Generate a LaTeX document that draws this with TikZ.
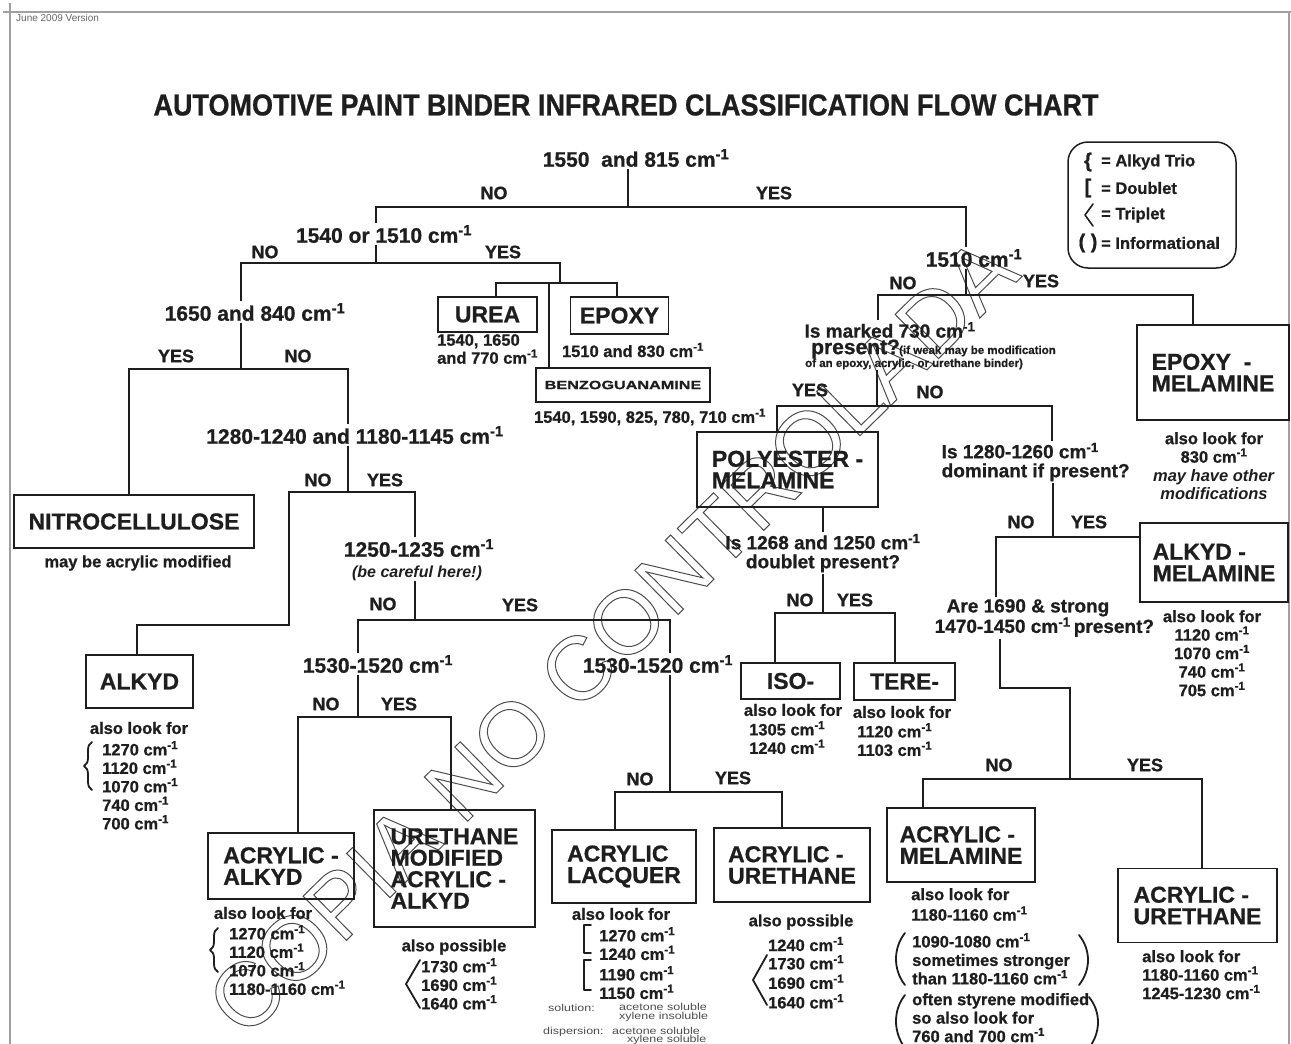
\documentclass[tikz,border=0pt]{standalone}
\usepackage{fontspec}
\setmainfont{Liberation Sans}[BoldFeatures={FakeBold=0.8}]
\usepackage{graphicx}
\usepackage{tikz}
\usetikzlibrary{positioning,decorations.pathreplacing}
\definecolor{ink}{HTML}{1E1E1E}
\definecolor{pagerule}{HTML}{A0A0A0}
\newcommand{\invcm}{cm\textsuperscript{-1}}
\newcommand{\boxfont}{\fontsize{23}{21.5}\selectfont\bfseries}
\newcommand{\qfont}{\fontsize{21}{19}\selectfont\bfseries}
\newcommand{\qwfont}{\fontsize{19}{19}\selectfont\bfseries}
\newcommand{\ynfont}{\fontsize{18}{18}\selectfont\bfseries}
\newcommand{\notefont}{\fontsize{16.5}{18.5}\selectfont\bfseries}
\newcommand{\smallnotefont}{\fontsize{11.5}{12}\selectfont\bfseries}
\newcommand{\solfont}{\fontsize{10}{9}\selectfont}
\newcommand{\legfont}{\fontsize{16.5}{16.5}\selectfont\bfseries}

\begin{document}
\begin{tikzpicture}[x=1pt, y=-1pt,
  every node/.style={inner sep=0pt, text=ink},
  link/.style={draw=ink, line width=1.6pt},
  box/.style={draw=ink, line width=1.6pt, font=\boxfont, align=left},
  ques/.style={font=\qfont, align=center, inner sep=1.5pt},
  yn/.style={font=\ynfont},
  note/.style={font=\notefont, align=center},
  lnote/.style={font=\notefont, align=left, anchor=north west},
  sol/.style={font=\solfont, text=black!70, anchor=west},
  brk/.style={draw=ink, line width=1.8pt, line cap=round, line join=round},
  pageline/.style={draw=pagerule, line width=1.2pt}]
  \useasboundingbox (0,0) rectangle (1291,1044);

  % watermark
  \node[rotate=44.5, font=\fontsize{90}{90}\selectfont, text=black!70] (wm) at (612,636) {\special{pdf:literal direct 1 Tr 1 w}COPIA NO CONTROLADA\special{pdf:literal direct 0 Tr}};

  \draw[pageline] (3,12) -- (1291,12);
  \draw[pageline] (10,3) -- (10,1044);
  \draw[pageline] (1289,12) -- (1289,1044);
  \node[font=\fontsize{10}{10}\selectfont, text=black!60, anchor=west] (version) at (16,18) {June 2009 Version};
  \node[font=\fontsize{27}{27}\selectfont\bfseries] (title) at (626,105) {\scalebox{1}[1.12]{AUTOMOTIVE PAINT BINDER INFRARED CLASSIFICATION FLOW CHART}};

  % legend
  \node[draw=ink, line width=1.5pt, rounded corners=20pt, minimum width=168pt, minimum height=126pt] (legend) at (1152,205) {};
  \node[font=\fontsize{20}{20}\selectfont\bfseries] (lsyma) at (1088,162) {\{};
  \node[font=\legfont, anchor=west] (ltxta) at (1101,162) {= Alkyd Trio};
  \node[font=\fontsize{20}{20}\selectfont\bfseries] (lsymb) at (1088,188) {[};
  \node[font=\legfont, anchor=west] (ltxtb) at (1101,188) {= Doublet};
  \draw[brk, line width=1.6pt] (1093,204) -- (1085,215) -- (1093,226);
  \node[font=\legfont, anchor=west] (ltxtc) at (1101,215) {= Triplet};
  \node[font=\fontsize{20}{20}\selectfont\bfseries] (lsymd) at (1088,243) {( )};
  \node[font=\legfont, anchor=west] (ltxtd) at (1101,243) {= Informational};

  % questions
  \node[ques] (root) at (636,158) {1550\ \ and 815 \invcm};
  \node[ques] (qa) at (384,234) {1540 or 1510 \invcm};
  \node[ques] (qb) at (974,258) {1510 \invcm};
  \node[ques] (qc) at (255,312) {1650 and 840 \invcm};
  \node[ques] (qd) at (355,435) {1280-1240 and 1180-1145 \invcm};
  \node[ques] (qe) at (419,548) {1250-1235 \invcm};
  \node[font=\fontsize{16}{16}\selectfont\bfseries\itshape] (qecare) at (417,573) {(be careful here!)};
  \node[ques] (qf) at (378,664) {1530-1520 \invcm};
  \node[ques] (qg) at (658,664) {1530-1520 \invcm};
  \node[ques, font=\qwfont] (qh) at (890,330) {Is marked 730 \invcm};
  \node[font=\qfont, anchor=west] (qhp) at (811,349) {present?};
  \node[font=\smallnotefont, anchor=west] (qhw) at (899,351) {(if weak may be modification};
  \node[font=\smallnotefont, anchor=west] (qhb) at (805,364) {of an epoxy, acrylic, or urethane binder)};
  \node[ques, font=\qwfont] (qi) at (823,553) {Is 1268 and 1250 \invcm\\doublet present?};
  \node[ques, font=\qwfont, align=left, anchor=west] (qj) at (940,462) {Is 1280-1260 \invcm\\dominant if present?};
  \node[ques, font=\qwfont, align=left, anchor=west] (qk) at (933,618) {\hspace*{12pt}Are 1690 \& strong\\1470-1450 \invcm\,present?};

  % yes / no
  \node[yn] (rootno) at (494,193) {NO};
  \node[yn] (rootyes) at (774,193) {YES};
  \node[yn] (qano) at (265,252) {NO};
  \node[yn] (qayes) at (503,252) {YES};
  \node[yn] (qbno) at (903,283) {NO};
  \node[yn] (qbyes) at (1041,281) {YES};
  \node[yn] (qcyes) at (176,356) {YES};
  \node[yn] (qcno) at (298,356) {NO};
  \node[yn] (qdno) at (318,480) {NO};
  \node[yn] (qdyes) at (385,480) {YES};
  \node[yn] (qeno) at (383,604) {NO};
  \node[yn] (qeyes) at (520,605) {YES};
  \node[yn] (qfno) at (326,704) {NO};
  \node[yn] (qfyes) at (399,704) {YES};
  \node[yn] (qgno) at (640,779) {NO};
  \node[yn] (qgyes) at (733,778) {YES};
  \node[yn] (qhyes) at (810,390) {YES};
  \node[yn] (qhno) at (930,392) {NO};
  \node[yn] (qino) at (800,600) {NO};
  \node[yn] (qiyes) at (855,600) {YES};
  \node[yn] (qjno) at (1021,522) {NO};
  \node[yn] (qjyes) at (1089,522) {YES};
  \node[yn] (qkno) at (999,765) {NO};
  \node[yn] (qkyes) at (1145,765) {YES};

  % binder boxes
  \node[box, minimum width=99pt, minimum height=35pt] (urea) at (487.5,314.5) {UREA};
  \node[box, minimum width=98pt, minimum height=37pt] (epoxy) at (619.5,315.5) {EPOXY};
  \node[box, minimum width=174pt, minimum height=34pt, font=\fontsize{12}{12}\selectfont\bfseries] (benzo) at (623,385) {\scalebox{1.35}[1]{BENZOGUANAMINE}};
  \node[box, minimum width=240pt, minimum height=53pt] (nitro) at (134,521.5) {NITROCELLULOSE};
  \node[box, minimum width=107pt, minimum height=53pt] (alkyd) at (139.5,681.5) {ALKYD};
  \node[box, minimum width=146pt, minimum height=66pt] (aab) at (281,866) {ACRYLIC -\\ALKYD};
  \node[box, minimum width=161pt, minimum height=117pt] (uma) at (454.5,868.5) {URETHANE\\MODIFIED\\ACRYLIC -\\ALKYD};
  \node[box, minimum width=144pt, minimum height=73pt] (alq) at (624,866.5) {ACRYLIC\\LACQUER};
  \node[box, minimum width=156pt, minimum height=74pt] (aua) at (792,865) {ACRYLIC -\\URETHANE};
  \node[box, minimum width=181pt, minimum height=75pt] (pem) at (787.5,469.5) {POLYESTER -\\MELAMINE};
  \node[box, minimum width=99pt, minimum height=36pt] (iso) at (790.5,681) {ISO-};
  \node[box, minimum width=101pt, minimum height=37pt] (tere) at (904.5,681.5) {TERE-};
  \node[box, minimum width=152pt, minimum height=95pt] (emel) at (1213,372.5) {EPOXY\ \ -\\MELAMINE};
  \node[box, minimum width=148pt, minimum height=79pt] (amel) at (1214,562.5) {ALKYD -\\MELAMINE};
  \node[box, minimum width=148pt, minimum height=74pt] (acmel) at (961,845) {ACRYLIC -\\MELAMINE};
  \node[box, minimum width=159pt, minimum height=74pt] (aub) at (1197.5,905.5) {ACRYLIC -\\URETHANE};

  % notes under the boxes
  \node[lnote, font=\fontsize{16.5}{18}\selectfont\bfseries] (urean) at (437,334) {1540, 1650\\and 770 \invcm};
  \node[note] (epoxyn) at (633,350) {1510 and 830 \invcm};
  \node[note] (benzon) at (650,417) {1540, 1590, 825, 780, 710 \invcm};
  \node[note] (nitron) at (138,563) {may be acrylic modified};
  \node[note] (alkydn) at (139,728) {also look for};
  \node[lnote] (alkydv) at (102,741) {1270 \invcm\\1120 \invcm\\1070 \invcm\\740 \invcm\\700 \invcm};
  \node[note] (aabn) at (263,913) {also look for};
  \node[lnote] (aabv) at (229,925) {1270 \invcm\\1120 \invcm\\1070 \invcm\\1180-1160 \invcm};
  \node[note] (uman) at (454,947) {also possible};
  \node[lnote] (umav) at (421,958) {1730 \invcm\\1690 \invcm\\1640 \invcm};
  \node[note] (alqn) at (621,914) {also look for};
  \node[lnote] (alqva) at (599,927) {1270 \invcm\\1240 \invcm};
  \node[lnote] (alqvb) at (599,966) {1190 \invcm\\1150 \invcm};
  \node[sol] (alqsa) at (548,1008) {\scalebox{1.25}[1]{solution:}};
  \node[sol, anchor=north west, align=left] (alqsb) at (619,1003) {\scalebox{1.25}[1]{acetone soluble}\\\scalebox{1.25}[1]{xylene insoluble}};
  \node[sol] (alqsc) at (543,1032) {\scalebox{1.25}[1]{dispersion:}};
  \node[sol] (alqsd) at (612,1031) {\scalebox{1.25}[1]{acetone soluble}};
  \node[sol] (alqse) at (627,1040) {\scalebox{1.25}[1]{xylene soluble}};
  \node[note] (auan) at (801,922) {also possible};
  \node[note] (auava) at (806,944) {1240 \invcm};
  \node[lnote, font=\fontsize{16.5}{19.5}\selectfont\bfseries] (auavb) at (768,955) {1730 \invcm\\1690 \invcm\\1640 \invcm};
  \node[note] (ison) at (793,710) {also look for};
  \node[lnote] (isov) at (749,721) {1305 \invcm\\1240 \invcm};
  \node[note] (teren) at (902,712) {also look for};
  \node[lnote] (terev) at (857,723) {1120 \invcm\\1103 \invcm};
  \node[note, anchor=north] (emeln) at (1214,432) {also look for\\830 \invcm\\\textit{may have other}\\\textit{modifications}};
  \node[note, anchor=north] (ameln) at (1212,610) {also look for\\1120 \invcm\\1070 \invcm\\740 \invcm\\705 \invcm};
  \node[lnote, font=\fontsize{16.5}{20.5}\selectfont\bfseries] (acmelna) at (911,888) {also look for\\1180-1160 \invcm};
  \node[lnote] (acmelnb) at (912,933) {1090-1080 \invcm\\sometimes stronger\\than 1180-1160 \invcm};
  \node[lnote] (acmelnc) at (912,993) {often styrene modified\\so also look for\\760 and 700 \invcm};
  \node[lnote] (aubn) at (1142,950) {also look for\\1180-1160 \invcm\\1245-1230 \invcm};

  % brackets
  \draw[brk, decorate, decoration={brace, amplitude=8pt}] (92,790) -- (92,742);
  \draw[brk, decorate, decoration={brace, amplitude=8pt}] (218,972) -- (218,928);
  \draw[brk] (420,960) -- (406,984) -- (420,1008);
  \draw[brk] (591,925) -- (584,925) -- (584,953) -- (591,953);
  \draw[brk] (591,960) -- (584,960) -- (584,990) -- (591,990);
  \draw[brk] (767,955) -- (753,980) -- (767,1005);
  \draw[brk] (905,933) .. controls (893,948) and (893,970) .. (905,985);
  \draw[brk] (1079,935) .. controls (1091,950) and (1091,970) .. (1079,985);
  \draw[brk] (905,995) .. controls (893,1010) and (893,1032) .. (905,1048);
  \draw[brk] (1089,997) .. controls (1101,1012) and (1101,1032) .. (1089,1048);

  % connectors
  \coordinate (j0) at (628,207);
  \coordinate (j0l) at (376,207);
  \coordinate (j0r) at (966,207);
  \draw[link] (j0 |- root.south) -- (j0);
  \draw[link] (j0l |- qa.north) -- (j0l) -- (j0r) -- (j0r |- qb.north);
  \coordinate (j1) at (376,263);
  \coordinate (j1l) at (241,263);
  \coordinate (j1r) at (560,263);
  \coordinate (j2) at (560,283);
  \coordinate (j2l) at (496,283);
  \coordinate (j2m) at (549,283);
  \coordinate (j2r) at (617,283);
  \draw[link] (j1 |- qa.south) -- (j1);
  \draw[link] (j1l |- qc.north) -- (j1l) -- (j1r) -- (j2);
  \draw[link] (j2l |- urea.north) -- (j2l) -- (j2r) -- (j2r |- epoxy.north);
  \draw[link] (j2m) -- (j2m |- benzo.north);
  \coordinate (j3) at (966,295);
  \coordinate (j3l) at (878,295);
  \coordinate (j3r) at (1193,295);
  \draw[link] (j3 |- qb.south) -- (j3);
  \draw[link] (j3l |- qh.north) -- (j3l) -- (j3r) -- (j3r |- emel.north);
  \coordinate (j4) at (241,369);
  \coordinate (j4l) at (129,369);
  \coordinate (j4r) at (348,369);
  \draw[link] (j4 |- qc.south) -- (j4);
  \draw[link] (j4l |- nitro.north) -- (j4l) -- (j4r) -- (j4r |- qd.north);
  \coordinate (j5) at (348,492);
  \coordinate (j5l) at (289,492);
  \coordinate (j5r) at (415,492);
  \coordinate (j5b) at (289,625);
  \coordinate (j5c) at (137,625);
  \draw[link] (j5 |- qd.south) -- (j5);
  \draw[link] (j5r |- qe.north) -- (j5r) -- (j5l) -- (j5b) -- (j5c) -- (j5c |- alkyd.north);
  \coordinate (j6) at (415,620);
  \coordinate (j6l) at (358,620);
  \coordinate (j6r) at (670,620);
  \draw[link] (j6 |- qecare.south) -- (j6);
  \draw[link] (j6l |- qf.north) -- (j6l) -- (j6r) -- (j6r |- qg.north);
  \coordinate (j7) at (358,717);
  \coordinate (j7l) at (298,717);
  \coordinate (j7r) at (451,717);
  \draw[link] (j7 |- qf.south) -- (j7);
  \draw[link] (j7l |- aab.north) -- (j7l) -- (j7r) -- (j7r |- uma.north);
  \coordinate (j8) at (670,792);
  \coordinate (j8l) at (615,792);
  \coordinate (j8r) at (782,792);
  \draw[link] (j8 |- qg.south) -- (j8);
  \draw[link] (j8l |- alq.north) -- (j8l) -- (j8r) -- (j8r |- aua.north);
  \coordinate (j9) at (877,406);
  \coordinate (j9l) at (777,406);
  \coordinate (j9r) at (1052,406);
  \draw[link] (j9 |- qhb.south) -- (j9);
  \draw[link] (j9l |- pem.north) -- (j9l) -- (j9r) -- (j9r |- qj.north);
  \coordinate (j10) at (823,613);
  \coordinate (j10l) at (775,613);
  \coordinate (j10r) at (895,613);
  \draw[link] (j10 |- pem.south) -- (j10 |- qi.north);
  \draw[link] (j10 |- qi.south) -- (j10);
  \draw[link] (j10l |- iso.north) -- (j10l) -- (j10r) -- (j10r |- tere.north);
  \coordinate (j11) at (1053,537);
  \coordinate (j11l) at (996,537);
  \draw[link] (j11 |- qj.south) -- (j11);
  \draw[link] (j11l |- qk.north) -- (j11l) -- (j11l -| amel.west);
  \coordinate (j12) at (1000,688);
  \coordinate (j12b) at (1070,688);
  \coordinate (j12c) at (1070,779);
  \coordinate (j12l) at (923,779);
  \coordinate (j12r) at (1202,779);
  \draw[link] (j12 |- qk.south) -- (j12) -- (j12b) -- (j12c);
  \draw[link] (j12l |- acmel.north) -- (j12l) -- (j12r) -- (j12r |- aub.north);
\end{tikzpicture}
\end{document}
